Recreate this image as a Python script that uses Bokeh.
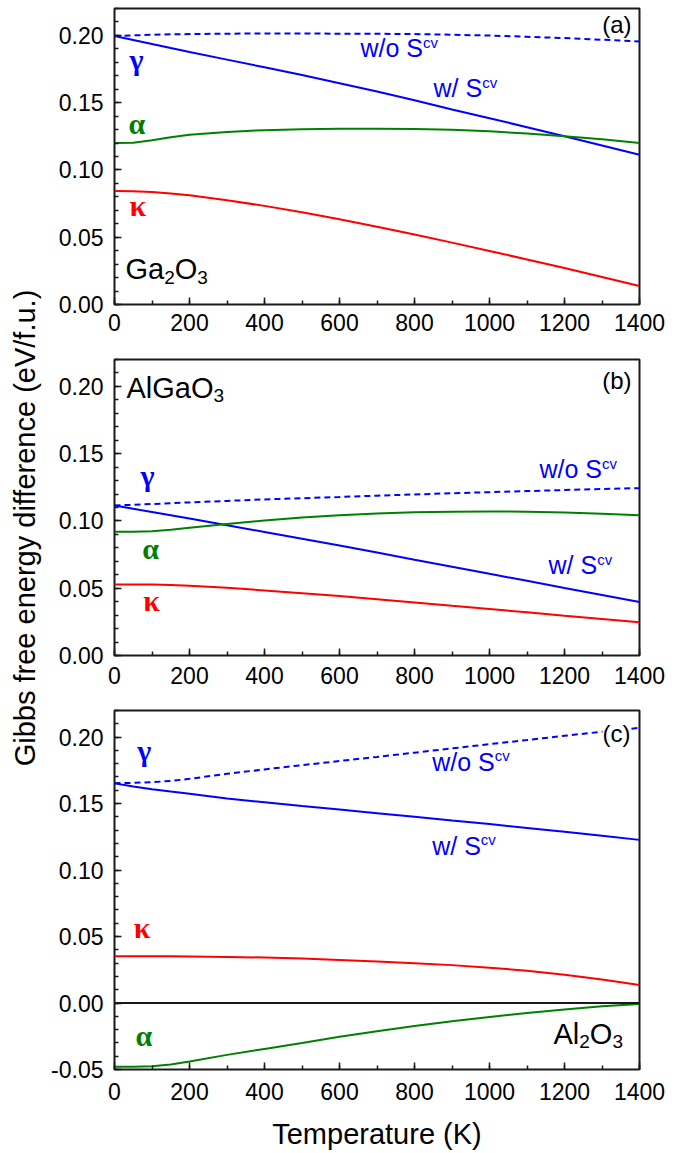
import math
from bokeh.plotting import figure
from bokeh.models import Range1d, SingleIntervalTicker, PrintfTickFormatter, Label, Span
from bokeh.layouts import row, column
from bokeh.embed import file_html
from bokeh.resources import INLINE

# ---------------- data ----------------
T = [0, 50, 100, 150, 200, 300, 400, 500, 600, 700, 800, 900, 1000, 1100, 1200, 1300, 1400]

# (a) Ga2O3
a_gamma_wo = [0.1995, 0.2000, 0.2005, 0.2008, 0.2010, 0.2013, 0.2014, 0.2014, 0.2013, 0.2012, 0.2010, 0.2005, 0.1999, 0.1990, 0.1980, 0.1968, 0.1955]
a_gamma_w = [0.1995, 0.1966, 0.1936, 0.1906, 0.1877, 0.1820, 0.1763, 0.1705, 0.1645, 0.1583, 0.1518, 0.1450, 0.1385, 0.1318, 0.1250, 0.1182, 0.1113]
a_alpha = [0.1200, 0.1203, 0.1220, 0.1243, 0.1261, 0.1283, 0.1296, 0.1303, 0.1306, 0.1307, 0.1305, 0.1298, 0.1287, 0.1271, 0.1251, 0.1228, 0.1200]
a_kappa = [0.0843, 0.0842, 0.0836, 0.0825, 0.0812, 0.0774, 0.0733, 0.0686, 0.0634, 0.0578, 0.0520, 0.0460, 0.0398, 0.0335, 0.0271, 0.0205, 0.0137]

# (b) AlGaO3
b_gamma_wo = [0.1115, 0.1120, 0.1126, 0.1132, 0.1138, 0.1149, 0.1160, 0.1169, 0.1178, 0.1188, 0.1197, 0.1206, 0.1214, 0.1222, 0.1230, 0.1237, 0.1244]
b_gamma_w = [0.1115, 0.1090, 0.1066, 0.1042, 0.1018, 0.0968, 0.0918, 0.0868, 0.0818, 0.0765, 0.0712, 0.0660, 0.0607, 0.0555, 0.0502, 0.0450, 0.0397]
b_alpha = [0.0920, 0.0920, 0.0924, 0.0935, 0.0950, 0.0978, 0.1003, 0.1025, 0.1043, 0.1055, 0.1064, 0.1069, 0.1071, 0.1069, 0.1063, 0.1054, 0.1042]
b_kappa = [0.0528, 0.0528, 0.0527, 0.0524, 0.0519, 0.0503, 0.0484, 0.0463, 0.0442, 0.0418, 0.0394, 0.0369, 0.0345, 0.0321, 0.0296, 0.0272, 0.0248]

# (c) Al2O3
c_gamma_wo = [0.1653, 0.1656, 0.1661, 0.1670, 0.1686, 0.1724, 0.1757, 0.1789, 0.1820, 0.1851, 0.1883, 0.1915, 0.1947, 0.1978, 0.2010, 0.2040, 0.2070]
c_gamma_w = [0.1652, 0.1628, 0.1607, 0.1590, 0.1574, 0.1538, 0.1510, 0.1482, 0.1455, 0.1428, 0.1401, 0.1373, 0.1346, 0.1317, 0.1288, 0.1258, 0.1227]
c_kappa = [0.0352, 0.0352, 0.0352, 0.0351, 0.0350, 0.0347, 0.0342, 0.0334, 0.0323, 0.0312, 0.0300, 0.0285, 0.0266, 0.0243, 0.0213, 0.0177, 0.0136]
c_alpha = [-0.0480, -0.0479, -0.0475, -0.0462, -0.0440, -0.0390, -0.0345, -0.0300, -0.0254, -0.0212, -0.0172, -0.0137, -0.0105, -0.0075, -0.0048, -0.0025, -0.0008]

X_RANGE = (0, 1400)
Y_RANGES = [(0.0, 0.22), (0.0, 0.22), (-0.05, 0.22)]
X_TITLE = "Temperature (K)"
Y_TITLE = "Gibbs free energy difference (eV/f.u.)"

BLUE = "#0000FF"
GREEN = "#008000"
RED = "#FF0000"
INK = "#1a1a1a"
SANS = "Liberation Sans"
GREEK_FONT = "Liberation Serif"

PX_PER_UNIT = 1345.0   # vertical pixels per eV/f.u. in every panel

# Arial / Liberation Sans advance widths (em) used to chain sub/superscripts
ADV = {"G": .778, "a": .556, "O": .778, "A": .667, "l": .222, "w": .722, "/": .278,
       "o": .556, " ": .278, "S": .667, "c": .5, "v": .5, "2": .556, "3": .556}


def text_w(s, size):
    return sum(ADV.get(ch, .556) for ch in s) * size


def make_panel(height, yr, top, bottom, xstandoff):
    p = figure(width=621, height=height, x_range=Range1d(*X_RANGE), y_range=Range1d(*yr),
               output_backend="svg", toolbar_location=None,
               min_border_left=66, min_border_right=30,
               min_border_top=top, min_border_bottom=bottom)
    p.grid.visible = False
    p.outline_line_color = INK
    p.outline_line_width = 2
    p.xaxis.ticker = SingleIntervalTicker(interval=200, num_minor_ticks=2)
    p.yaxis.ticker = SingleIntervalTicker(interval=0.05, num_minor_ticks=5)
    p.yaxis.formatter = PrintfTickFormatter(format="%.2f")
    for ax in (p.xaxis[0], p.yaxis[0]):
        ax.axis_line_color = None
        ax.major_tick_in = 7
        ax.major_tick_out = 0
        ax.minor_tick_in = 4
        ax.minor_tick_out = 0
        ax.major_tick_line_color = INK
        ax.minor_tick_line_color = INK
        ax.major_tick_line_width = 1.5
        ax.minor_tick_line_width = 1.5
        ax.major_label_text_font = SANS
        ax.major_label_text_font_size = "23px"
        ax.major_label_text_color = "black"
    p.yaxis.major_label_standoff = 11
    p.xaxis.major_label_standoff = xstandoff
    return p


def px_T(x):
    return (x - 114) / 0.375


def lab(p, x, y, text, size, color="black", font=SANS, style="normal", align="left", bg=None):
    # small upward correction so the glyph baseline lands where intended
    y = y + 0.33 * size / PX_PER_UNIT
    p.add_layout(Label(x=x, y=y, text=text, text_font_size=f"{size}px", text_color=color,
                       text_font=font, text_font_style=style, text_align=align,
                       text_baseline="alphabetic", background_fill_color=bg,
                       background_fill_alpha=1.0 if bg else 0.0))


def chain(p, x_px, y_px, vfun, pieces, color="black"):
    cur = x_px
    for text, size, dy in pieces:
        lab(p, px_T(cur), vfun(y_px - dy), text, size, color=color)
        cur += text_w(text, size)


def greek(p, x_px, y_val, ch, color):
    lab(p, px_T(x_px), y_val, ch, 30, color=color, font=GREEK_FONT, style="bold")


def draw(p, gwo, gw, al, ka):
    p.line(T, gwo, line_color=BLUE, line_width=2, line_dash="6 4")
    p.line(T, gw, line_color=BLUE, line_width=2)
    p.line(T, al, line_color=GREEN, line_width=2)
    p.line(T, ka, line_color=RED, line_width=2)


WO = lambda: [("w/o S", 25, 0), ("cv", 15, 9)]
W_ = lambda: [("w/ S", 25, 0), ("cv", 15, 9)]

# ---------------- panel (a) ----------------
fa = make_panel(344, Y_RANGES[0], 8, 40, 9)
draw(fa, a_gamma_wo, a_gamma_w, a_alpha, a_kappa)
va = lambda y: (304 - y) / PX_PER_UNIT
lab(fa, px_T(631), va(31.7), "(a)", 24, align="right")
greek(fa, 129, va(69), "γ", BLUE)
greek(fa, 128, va(133.3), "α", GREEN)
greek(fa, 129, va(215), "κ", RED)
chain(fa, 125, 278.3, va, [("Ga", 29, 0), ("2", 19, -5), ("O", 29, 0), ("3", 19, -5)])
chain(fa, 360, 56, va, WO(), BLUE)
chain(fa, 433, 96, va, W_(), BLUE)

# ---------------- panel (b) ----------------
fb = make_panel(351, Y_RANGES[1], 15, 40, 11)
draw(fb, b_gamma_wo, b_gamma_w, b_alpha, b_kappa)
vb = lambda y: (655 - y) / PX_PER_UNIT
lab(fb, px_T(631), vb(388.3), "(b)", 24, align="right")
chain(fb, 126, 396.7, vb, [("AlGaO", 29, 0), ("3", 19, -5)])
greek(fb, 140, vb(485), "γ", BLUE)
greek(fb, 141.7, vb(558), "α", GREEN)
greek(fb, 142.7, vb(610), "κ", RED)
chain(fb, 539, 476.7, vb, WO(), BLUE)
chain(fb, 548, 572.7, vb, W_(), BLUE)

# ---------------- panel (c) ----------------
fc = make_panel(457, Y_RANGES[2], 15, 79, 13)
fc.add_layout(Span(location=0, dimension="width", line_color=INK, line_width=2))
draw(fc, c_gamma_wo, c_gamma_w, c_alpha, c_kappa)
vc = lambda y: (1006 - y) / PX_PER_UNIT
lab(fc, px_T(630), vc(741.7), "(c)", 24, align="right", bg="white")
greek(fc, 136.7, vc(760), "γ", BLUE)
greek(fc, 133.3, vc(940), "κ", RED)
greek(fc, 135, vc(1049), "α", GREEN)
chain(fc, 431.7, 770, vc, WO(), BLUE)
chain(fc, 431.7, 855, vc, W_(), BLUE)
chain(fc, 553, 1046.7, vc, [("Al", 29, 0), ("2", 19, -5), ("O", 29, 0), ("3", 19, -5)])
fc.xaxis.axis_label = X_TITLE
fc.xaxis.axis_label_text_font = SANS
fc.xaxis.axis_label_text_font_size = "29px"
fc.xaxis.axis_label_text_font_style = "normal"
fc.xaxis.axis_label_text_color = "black"
fc.xaxis.axis_label_standoff = 15

# ---------------- y title strip ----------------
TOTAL_H = 344 + 351 + 457
fy = figure(width=48, height=TOTAL_H, x_range=Range1d(0, 48), y_range=Range1d(0, TOTAL_H),
            output_backend="svg", toolbar_location=None, min_border=0)
fy.axis.visible = False
fy.grid.visible = False
fy.outline_line_color = None
fy.add_layout(Label(x=24, y=TOTAL_H - 527.5, text=Y_TITLE, angle=math.pi / 2, text_align="center",
                    text_baseline="middle", text_font=SANS, text_font_size="29px",
                    text_color="black"))

layout = row(fy, column(fa, fb, fc))
open("out.html", "w").write(file_html(layout, INLINE))
